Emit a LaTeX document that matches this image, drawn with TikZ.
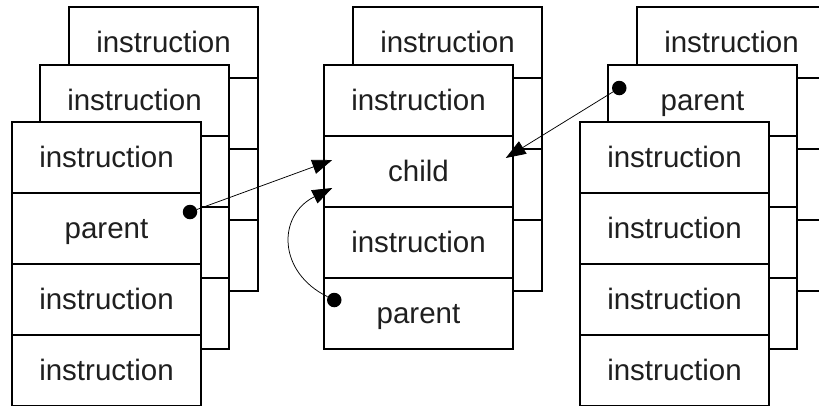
\documentclass[tikz,border=0pt]{standalone}
\usepackage{fontspec}
\setmainfont{Liberation Sans}
\usetikzlibrary{arrows.meta,calc}

\begin{document}
\begin{tikzpicture}[x=1pt,y=-1pt,
  cell/.style={draw, fill=white, line width=1.5pt, minimum width=189pt,
    minimum height=71pt, inner sep=0pt, text height=20pt, text depth=1pt,
    text=black!88, font=\fontsize{29.5}{34}\selectfont},
  dot/.style={circle, fill=black, inner sep=0pt, minimum size=14.5pt},
  link/.style={line width=0.75pt, -{Triangle[length=20pt,width=14.5pt]}}
]
\path[use as bounding box, clip] (0,0) rectangle (819,405);

% ---- left group: three stacked frames ----
\node[cell] (lb1) at (163.5, 42.5) {instruction};
\node[cell] (lb2) at (163.5,113.5) {};
\node[cell] (lb3) at (163.5,184.5) {};
\node[cell] (lb4) at (163.5,255.5) {};

\node[cell] (lm1) at (134.5,100.5) {instruction};
\node[cell] (lm2) at (134.5,171.5) {};
\node[cell] (lm3) at (134.5,242.5) {};
\node[cell] (lm4) at (134.5,313.5) {};

\node[cell] (lf1) at (106.5,157.5) {instruction};
\node[cell] (lf2) at (106.5,228.5) {parent};
\node[cell] (lf3) at (106.5,299.5) {instruction};
\node[cell] (lf4) at (106.5,370.5) {instruction};

% ---- middle group: two stacked frames ----
\node[cell] (mb1) at (447.5, 42.5) {instruction};
\node[cell] (mb2) at (447.5,113.5) {};
\node[cell] (mb3) at (447.5,184.5) {};
\node[cell] (mb4) at (447.5,255.5) {};

\node[cell] (mf1) at (418.5,100.5) {instruction};
\node[cell] (mf2) at (418.5,171.5) {child};
\node[cell] (mf3) at (418.5,242.5) {instruction};
\node[cell] (mf4) at (418.5,313.5) {parent};

% ---- right group: three stacked frames ----
\node[cell] (rb1) at (731.5, 42.5) {instruction};
\node[cell] (rb2) at (731.5,113.5) {};
\node[cell] (rb3) at (731.5,184.5) {};
\node[cell] (rb4) at (731.5,255.5) {};

\node[cell] (rm1) at (702.5,100.5) {parent};
\node[cell] (rm2) at (702.5,171.5) {};
\node[cell] (rm3) at (702.5,242.5) {};
\node[cell] (rm4) at (702.5,313.5) {};

\node[cell] (rf1) at (674.5,157.5) {instruction};
\node[cell] (rf2) at (674.5,228.5) {instruction};
\node[cell] (rf3) at (674.5,299.5) {instruction};
\node[cell] (rf4) at (674.5,370.5) {instruction};

% ---- parent links into the child cell ----
\node[dot] (d1) at ($(lf2.center)+(83.5,-16.5)$) {};
\coordinate (t1) at ($(mf2.west)+(9,-11.5)$);
\draw[link] (d1) -- (t1);

\node[dot] (d2) at ($(mf4.west)+(11,-13.5)$) {};
\coordinate (t2) at ($(mf2.west)+(9,16.5)$);
\draw[link] (d2) .. controls ($(d2)+(-57,-28)$) and ($(t2)+(-55,27)$) .. (t2);

\node[dot] (d3) at ($(rm1.west)+(12,-12.5)$) {};
\coordinate (t3) at ($(mf2.east)+(-8,-13.5)$);
\draw[link] (d3) -- (t3);
\end{tikzpicture}
\end{document}
